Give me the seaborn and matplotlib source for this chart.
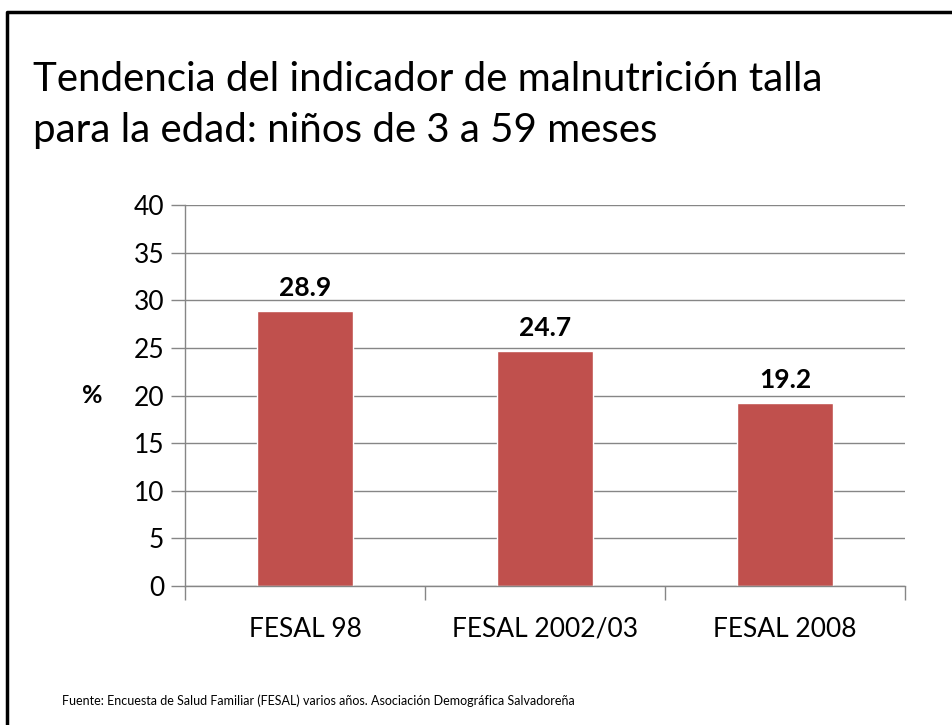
import seaborn as sns
import matplotlib.pyplot as plt
import pandas as pd
from matplotlib.lines import Line2D

# data
encuestas = ["FESAL 98", "FESAL 2002/03", "FESAL 2008"]
porcentaje = [28.9, 24.7, 19.2]
y_ticks = [0, 5, 10, 15, 20, 25, 30, 35, 40]

titulo = "Tendencia del indicador de malnutrición talla\npara la edad: niños de 3 a 59 meses"
fuente = "Fuente: Encuesta de Salud Familiar (FESAL) varios años. Asociación Demográfica Salvadoreña"

sns.set_style("white")
plt.rcParams['font.family'] = ['Lato', 'DejaVu Sans']
plt.rcParams['text.color'] = 'black'
plt.rcParams['xtick.color'] = 'black'
plt.rcParams['ytick.color'] = 'black'

df = pd.DataFrame({"Encuesta": encuestas, "Porcentaje": porcentaje})

fig = plt.figure(figsize=(9.52, 7.25), dpi=100)
ax = fig.add_axes([185/952, 1 - 586/725, 720/952, 381/725])

sns.barplot(data=df, x="Encuesta", y="Porcentaje", color="#C0504D",
            width=0.4, saturation=1, ax=ax)

ax.set_ylim(0, 40)
ax.set_xlim(-0.5, 2.5)
ax.set_yticks(y_ticks)
ax.tick_params(axis='y', left=True, labelsize=19, length=10, width=1,
               color="#868686", labelcolor="black", pad=5)
ax.yaxis.grid(True, color="#868686", linewidth=1)
ax.set_axisbelow(True)

# category separators as major ticks, labels on minor ticks
ax.set_xticks([-0.5, 0.5, 1.5, 2.5])
ax.set_xticklabels([])
ax.set_xticks([0, 1, 2], minor=True)
ax.set_xticklabels(encuestas, minor=True)
ax.tick_params(axis='x', which='major', bottom=True, length=10, width=1, color="#868686")
ax.tick_params(axis='x', which='minor', bottom=True, length=0, labelsize=19,
               labelcolor="black", pad=22)

for s in ["top", "right"]:
    ax.spines[s].set_visible(False)
for s in ["left", "bottom"]:
    ax.spines[s].set_color("#868686")
    ax.spines[s].set_linewidth(1)

ax.set_xlabel("")
ax.set_ylabel("%", rotation=0, fontsize=18, fontweight="bold", labelpad=30,
              va="center", color="black")

for i, v in enumerate(porcentaje):
    ax.annotate(f"{v}", (i, v), xytext=(0, 8), textcoords="offset points",
                ha="center", va="bottom", fontsize=19, fontweight="bold", color="black")

fig.text(33/952, 1 - 105/725, titulo, fontsize=29, ha="left", va="center",
         linespacing=1.45, color="black")
fig.text(62/952, 1 - 701/725, fuente, fontsize=9, ha="left", va="center", color="black")

# slide frame
fig.add_artist(Line2D([7/952, 7/952, 1.0], [0.0, 1 - 12/725, 1 - 12/725],
                      transform=fig.transFigure, color="black", linewidth=2.5))

fig.savefig("out.png", dpi=100)
